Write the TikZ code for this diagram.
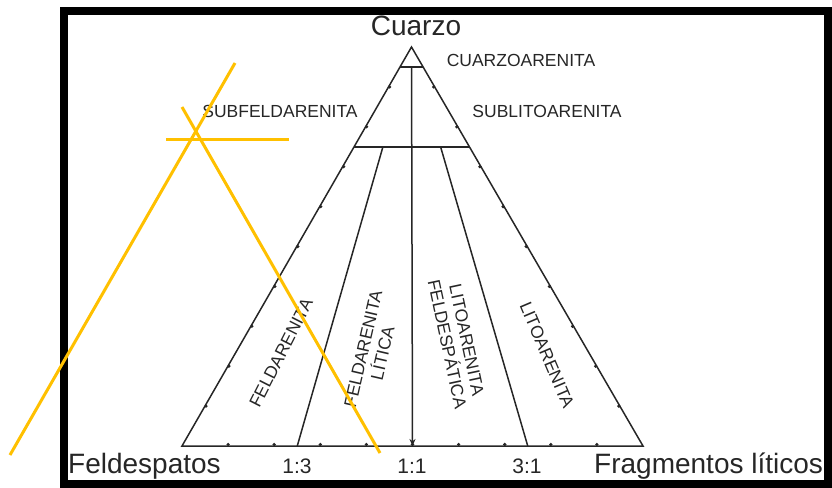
\documentclass[tikz,border=0pt]{standalone}
\usepackage{fontspec}
\setmainfont{Liberation Sans}
\usetikzlibrary{arrows.meta,calc}
\definecolor{gold}{HTML}{FFC000}
\definecolor{ink}{HTML}{262626}
\begin{document}
\begin{tikzpicture}[x=1pt,y=-1pt,
  edge/.style={draw=ink,line width=1.5pt},
  big/.style={font=\fontsize{28}{30}\selectfont,text=ink,inner sep=0pt},
  ratio/.style={font=\fontsize{21}{23}\selectfont,text=ink,inner sep=0pt},
  field/.style={font=\fontsize{17.5}{20}\selectfont,text=ink,inner sep=0pt,align=center},
  tickdot/.style={fill=ink},
  annot/.style={draw=gold,line width=3pt},
  frameline/.style={draw=black,line width=8pt}]
\useasboundingbox (0,0) rectangle (832,487);
% corners
\coordinate (Q) at (411.5,47);
\coordinate (F) at (182,446);
\coordinate (L) at (643,446);
\coordinate (B13) at ($(F)!0.25!(L)$);
\coordinate (B11) at ($(F)!0.5!(L)$);
\coordinate (B31) at ($(F)!0.75!(L)$);
\coordinate (Q95F) at ($(Q)!0.05!(F)$);
\coordinate (Q95L) at ($(Q)!0.05!(L)$);
\coordinate (Q75F) at ($(Q)!0.25!(F)$);
\coordinate (Q75L) at ($(Q)!0.25!(L)$);
\coordinate (T13) at ($(Q)!0.25!(B13)$);
\coordinate (T31) at ($(Q)!0.25!(B31)$);
\coordinate (T11) at ($(Q)!0.05!(B11)$);
% triangle and internal lines
\draw[edge,line join=miter] (Q) -- (F) -- (L) -- cycle;
\draw[edge] (Q95F) -- (Q95L);
\draw[edge] (Q75F) -- (Q75L);
\draw[edge] (T13) -- (B13);
\draw[edge] (T31) -- (B31);
\draw[edge,-{Stealth[length=7pt,width=6pt]}] (T11) -- (B11);
% ticks
\foreach \i in {1,...,9} {
  \fill[tickdot] ($(F)!\i/10!(L)+(0,-1.5)$) circle (1.8pt);
  \fill[tickdot] ($(Q)!\i/10!(F)+(1,0)$) circle (1.8pt);
  \fill[tickdot] ($(Q)!\i/10!(L)+(-1,0)$) circle (1.8pt);
}
% labels
\node[big] (cuarzo) at (416,26) {Cuarzo};
\node[big,anchor=base west] (feld) at (68,473) {Feldespatos};
\node[big,anchor=base west] (frag) at (594,473) {Fragmentos líticos};
\node[ratio,anchor=base] (r13) at (297,473) {1:3};
\node[ratio,anchor=base] (r11) at (412,473) {1:1};
\node[ratio,anchor=base] (r31) at (527,473) {3:1};
\node[field] (qa) at (521,60) {CUARZOARENITA};
\node[field] (sfa) at (280,111) {SUBFELDARENITA};
\node[field] (sla) at (547,111) {SUBLITOARENITA};
\node[field,rotate=63] (fa) at (281,353) {FELDARENITA};
\node[field,rotate=77] (fal) at (373,351) {FELDARENITA\\LÍTICA};
\node[field,rotate=-78] (laf) at (457,342) {LITOARENITA\\FELDESPÁTICA};
\node[field,rotate=-67] (la) at (547,355) {LITOARENITA};
% frame
\draw[frameline] (64,11) rectangle (828,484);
% annotation strokes
\coordinate (o1a) at (235,63);
\coordinate (o1b) at (10,455);
\coordinate (o2a) at (182,107);
\coordinate (o2b) at (380,453);
\coordinate (o3a) at (166,139);
\coordinate (o3b) at (289,139);
\draw[annot] (o1a) -- (o1b);
\draw[annot] (o2a) -- (o2b);
\draw[annot] (o3a) -- (o3b);
\end{tikzpicture}
\end{document}
